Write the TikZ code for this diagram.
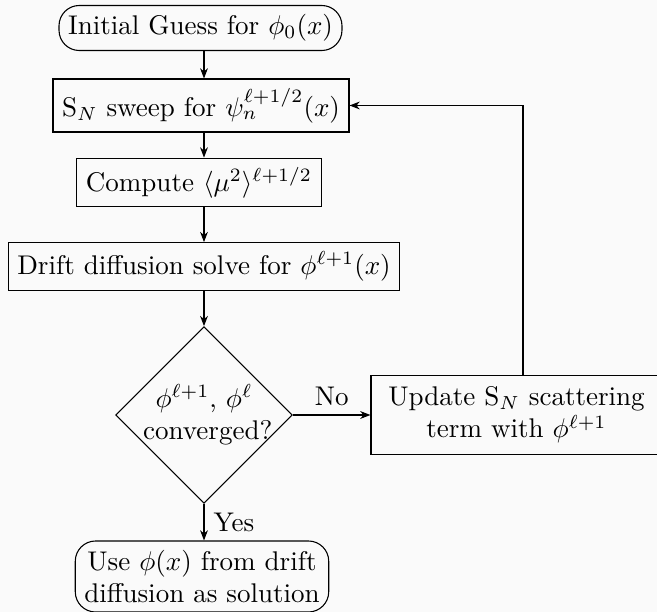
\documentclass[tikz,border=0pt]{standalone}
\usetikzlibrary{shapes.geometric,arrows.meta}
\newlength\pxu
\setlength\pxu{0.37pt}
\definecolor{bgc}{RGB}{250,250,250}
\begin{document}
\begin{tikzpicture}[x=\pxu,y=-\pxu,line width=0.4pt,
  box/.style={draw, rectangle, align=center, inner sep=3.33pt},
  roundbox/.style={box, rounded corners=7.5pt},
  widebox/.style={box, inner xsep=6.4pt, inner ysep=4.3pt},
  decision/.style={draw, diamond, aspect=1, text width=4.5em, align=center, inner sep=-0.55pt},
  arr/.style={-{Stealth[length=3.8pt,width=2.9pt]}}]
\useasboundingbox (0,0) rectangle (657,612);
\fill[bgc] (0,0) rectangle (657,612);
\node[roundbox] (init) at (200.5,28) {Initial Guess for $\phi_0(x)$};
\node[box] (sweep) at (201,105.5) {$\mathrm{S}_N$ sweep for $\psi_n^{\ell+1/2}(x)$};
\node[box] (comp) at (199,182.5) {Compute $\langle\mu^2\rangle^{\ell+1/2}$};
\node[box] (drift) at (204,266.5) {Drift diffusion solve for $\phi^{\ell+1}(x)$};
\node[decision] (conv) at (204,415) {$\phi^{\ell+1}$, $\phi^{\ell}$\\ converged?};
\node[widebox] (upd) at (516.5,415) {Update $\mathrm{S}_N$ scattering\\ term with $\phi^{\ell+1}$};
\node[roundbox] (sol) at (202,576.5) {Use $\phi(x)$ from drift\\ diffusion as solution};
\draw[arr] (init.south -| conv) -- (sweep.north -| conv);
\draw[arr] (sweep.south -| conv) -- (comp.north -| conv);
\draw[arr] (comp.south -| conv) -- (drift.north -| conv);
\draw[arr] (drift) -- (conv);
\draw[arr] (conv) -- node[above]{No} (upd);
\draw[arr] (conv) -- node[right]{Yes} (sol.north -| conv);
\draw[arr] ([xshift=6.5\pxu]upd.north) |- (sweep);
\end{tikzpicture}
\end{document}
